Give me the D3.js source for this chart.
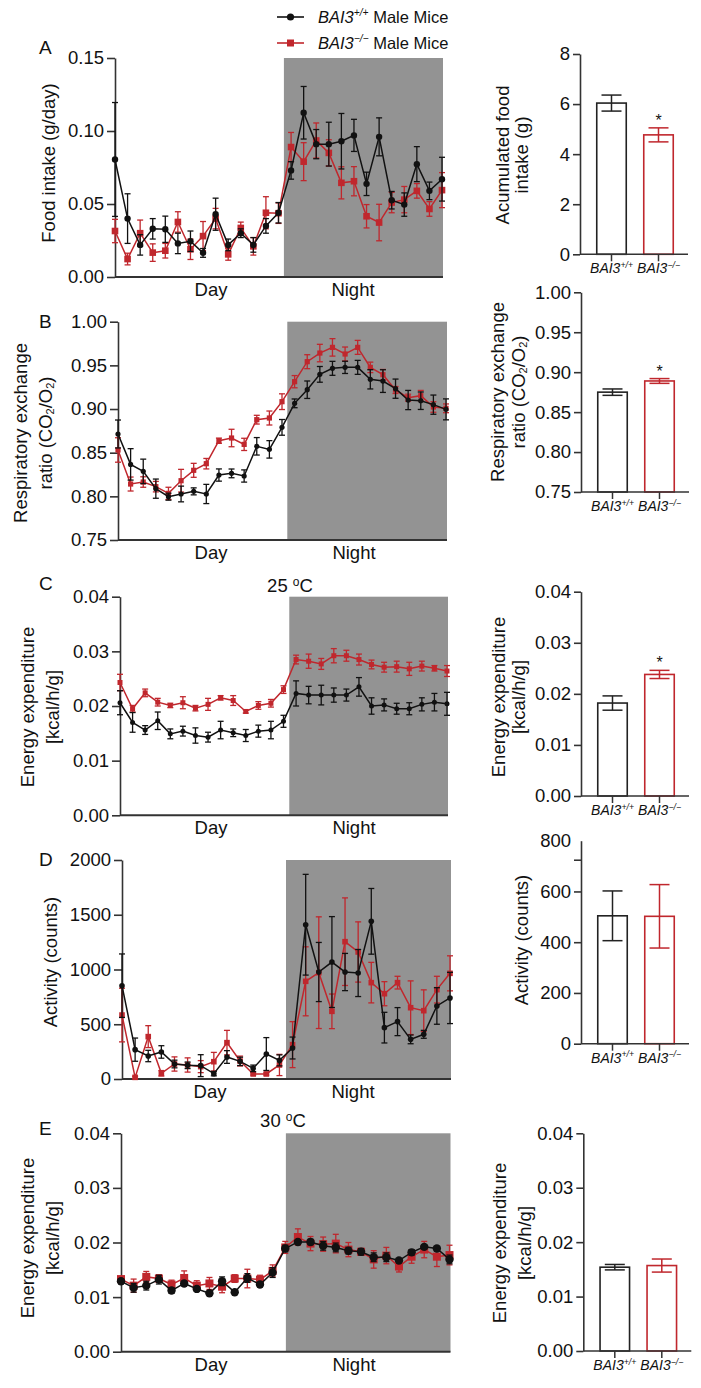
<!DOCTYPE html>
<html><head><meta charset="utf-8">
<script src="https://cdn.jsdelivr.net/npm/d3@7"></script>
<style>body{margin:0;background:#fff}</style>
</head><body><svg id="c" width="701" height="1388"></svg>
<script>
// ---------------- DATA ----------------
const groups = ["BAI3+/+", "BAI3-/-"];

const foodWT    = [0.0805,0.040,0.022,0.033,0.0327,0.023,0.0245,0.0165,0.043,0.022,0.030,0.022,0.035,0.044,0.073,0.1125,0.091,0.091,0.093,0.097,0.0638,0.096,0.0526,0.0496,0.0773,0.059,0.067];
const foodWTerr = [0.039,0.017,0.007,0.007,0.009,0.007,0.007,0.003,0.011,0.004,0.003,0.005,0.005,0.007,0.006,0.018,0.010,0.015,0.019,0.011,0.008,0.013,0.006,0.008,0.012,0.006,0.015];
const foodKO    = [0.0315,0.0123,0.030,0.0167,0.018,0.0377,0.019,0.028,0.040,0.0155,0.0336,0.021,0.044,0.0437,0.089,0.079,0.0935,0.085,0.0645,0.0656,0.0416,0.0373,0.051,0.053,0.059,0.0466,0.0595];
const foodKOerr = [0.008,0.004,0.009,0.006,0.005,0.007,0.007,0.010,0.007,0.004,0.004,0.006,0.011,0.007,0.010,0.013,0.012,0.009,0.011,0.010,0.008,0.0125,0.007,0.009,0.005,0.005,0.012];

const rerWT    = [0.8714,0.8366,0.8286,0.8088,0.7996,0.8027,0.8057,0.8027,0.8244,0.8263,0.8233,0.8573,0.8538,0.879,0.9065,0.9221,0.9397,0.9466,0.9477,0.9477,0.934,0.932,0.9233,0.9103,0.9095,0.905,0.8996];
const rerWTerr = [0.016,0.018,0.014,0.011,0.004,0.009,0.004,0.011,0.007,0.005,0.007,0.010,0.010,0.009,0.005,0.010,0.009,0.008,0.007,0.008,0.011,0.013,0.011,0.011,0.010,0.011,0.012];
const rerKO    = [0.8531,0.8141,0.8164,0.8111,0.8034,0.8179,0.8298,0.8374,0.8637,0.8668,0.8595,0.8878,0.8897,0.9084,0.9313,0.9542,0.9641,0.9706,0.963,0.9706,0.9477,0.9393,0.9218,0.913,0.9153,0.9023,0.9008];
const rerKOerr = [0.014,0.008,0.006,0.006,0.007,0.013,0.008,0.006,0.003,0.010,0.007,0.005,0.008,0.009,0.007,0.008,0.010,0.010,0.008,0.008,0.006,0.006,0.004,0.004,0.006,0.006,0.005];

const ee25WT    = [0.0206,0.0170,0.0156,0.0173,0.0149,0.0154,0.0146,0.0143,0.0156,0.0151,0.0146,0.0154,0.0156,0.0172,0.0223,0.0220,0.0220,0.0220,0.0220,0.0235,0.0200,0.0202,0.0195,0.0195,0.0203,0.0207,0.0204];
const ee25WTerr = [0.0022,0.0018,0.0008,0.0016,0.0009,0.0009,0.0014,0.0009,0.0016,0.0007,0.0011,0.0011,0.0016,0.0011,0.0023,0.0016,0.0018,0.0013,0.0011,0.0017,0.0015,0.0011,0.0010,0.0011,0.0012,0.0016,0.0021];
const ee25KO    = [0.0243,0.0195,0.0224,0.0207,0.0201,0.0206,0.0196,0.0203,0.0215,0.0210,0.0190,0.0201,0.0205,0.0230,0.0285,0.0282,0.0277,0.0292,0.0292,0.0285,0.0276,0.0271,0.0272,0.0268,0.0273,0.0269,0.0264];
const ee25KOerr = [0.0015,0.0006,0.0007,0.0007,0.0004,0.0011,0.0005,0.0011,0.0004,0.0009,0.0003,0.0007,0.0007,0.0007,0.0008,0.0013,0.0010,0.0013,0.0010,0.0010,0.0008,0.0009,0.0010,0.0012,0.0009,0.0005,0.0010];

const actWT    = [852,268,210,247,137,125,122,49,201,161,97,228,170,283,1409,977,1068,977,968,1440,469,524,362,408,667,740];
const actWTerr = [290,106,52,57,35,30,100,20,58,38,30,150,50,100,460,270,415,170,215,300,140,128,40,36,167,234];
const actKO    = [584,15,387,52,137,128,113,158,332,164,46,46,128,314,892,971,618,1254,1160,880,779,880,651,624,816,965];
const actKOerr = [245,10,100,25,65,65,55,85,112,45,10,10,97,210,315,510,158,400,275,185,110,58,245,190,122,160];

const ee30WT    = [0.0129,0.0117,0.0121,0.0132,0.0112,0.0125,0.0115,0.0107,0.0129,0.0109,0.0135,0.0123,0.0145,0.0189,0.0201,0.0201,0.0194,0.0191,0.0185,0.0183,0.0173,0.0173,0.0167,0.0182,0.0192,0.0189,0.0169];
const ee30WTerr = [0.0004,0.0008,0.0008,0.0008,0.0005,0.0004,0.0004,0.0003,0.0008,0.0003,0.0008,0.0004,0.0009,0.0006,0.0004,0.0005,0.0008,0.0008,0.0006,0.0006,0.0008,0.0008,0.0003,0.0005,0.0004,0.0004,0.0008];
const ee30KO    = [0.0133,0.0121,0.0137,0.0134,0.0123,0.0135,0.0121,0.0125,0.0119,0.0134,0.0134,0.0132,0.0148,0.0191,0.0210,0.0198,0.0197,0.0198,0.0187,0.0183,0.0169,0.0176,0.0156,0.0174,0.0187,0.0174,0.0177];
const ee30KOerr = [0.0004,0.0012,0.0010,0.0007,0.0008,0.0013,0.0009,0.0011,0.0011,0.0007,0.0017,0.0008,0.0011,0.0011,0.0015,0.0013,0.0013,0.0017,0.0013,0.0006,0.0016,0.0015,0.0010,0.0012,0.0015,0.0018,0.0018];

const barFood = [6.04, 4.77],   barFoodErr = [0.32, 0.28];
const barRER  = [0.875, 0.889], barRERErr  = [0.004, 0.003];
const barEE25 = [0.0182, 0.0238], barEE25Err = [0.0014, 0.0008];
const barAct  = [504, 502],     barActErr  = [98, 125];
const barEE30 = [0.0154, 0.0157], barEE30Err = [0.0005, 0.0012];

const ticksFood = [0, 0.05, 0.10, 0.15];
const ticksRER  = [0.75, 0.80, 0.85, 0.90, 0.95, 1.00];
const ticksEE   = [0, 0.01, 0.02, 0.03, 0.04];
const ticksAct  = [0, 500, 1000, 1500, 2000];
const ticksBarFood = [0, 2, 4, 6, 8];
const ticksBarAct  = [0, 200, 400, 600, 800];

// ---------------- DRAWING ----------------
const FONT = '"Liberation Sans", Arial, Helvetica, sans-serif';
const RED = "#c0272d", BLK = "#111", AX = "#333", GRAY = "#939393";
const svg = d3.select("#c");

function styleAxis(a, fs) {
  a.attr("font-family", FONT).attr("font-size", fs);
  a.select(".domain").attr("stroke", AX).attr("stroke-width", 1.6);
  a.selectAll(".tick line").attr("stroke", AX).attr("stroke-width", 1.6);
  a.selectAll(".tick text").attr("fill", "#111");
}

function yLabel(lines, cy) {
  lines.forEach(l => {
    const t = svg.append("text")
      .attr("transform", `translate(${l.x},${cy}) rotate(-90)`)
      .attr("text-anchor", "middle").attr("dominant-baseline", "central")
      .attr("font-family", FONT).attr("font-size", 18.5).attr("fill", "#111");
    l.parts.forEach(p => {
      const s = t.append("tspan").text(p.t);
      if (p.sub) s.attr("font-size", 11).attr("dy", 5);
      if (p.back) s.attr("dy", -5);
    });
  });
}

function letter(ch, x, y) {
  svg.append("text").attr("x", x).attr("y", y).text(ch)
    .attr("font-family", FONT).attr("font-size", 19).attr("fill", "#111");
}

function series(g, x, y, vals, errs, color, shape, size, cap) {
  g.append("path").datum(vals)
    .attr("d", d3.line().x((d, i) => x(i)).y(d => y(d)))
    .attr("fill", "none").attr("stroke", color).attr("stroke-width", 1.5);
  const eb = g.append("g").attr("stroke", color).attr("stroke-width", 1.3);
  vals.forEach((v, i) => {
    const xi = x(i), yt = y(v + errs[i]), yb = y(v - errs[i]);
    eb.append("line").attr("x1", xi).attr("x2", xi).attr("y1", yt).attr("y2", yb);
    eb.append("line").attr("x1", xi - cap).attr("x2", xi + cap).attr("y1", yt).attr("y2", yt);
    eb.append("line").attr("x1", xi - cap).attr("x2", xi + cap).attr("y1", yb).attr("y2", yb);
  });
  vals.forEach((v, i) => {
    if (shape === "circle")
      g.append("circle").attr("cx", x(i)).attr("cy", y(v)).attr("r", size).attr("fill", color);
    else
      g.append("rect").attr("x", x(i) - size).attr("y", y(v) - size)
        .attr("width", size * 2).attr("height", size * 2).attr("fill", color);
  });
}

function linePanel(c) {
  const g = svg.append("g");
  const n = c.wt.length;
  const x = d3.scaleLinear().domain([0, n - 1]).range([c.x0, c.x1]);
  const y = d3.scaleLinear().domain([c.ticks[0], c.ticks[c.ticks.length - 1]]).range([c.yBot, c.yTop]);
  const xEnd = x(n - 1) + 1;
  g.append("rect").attr("x", x(c.night)).attr("y", c.yTop)
    .attr("width", xEnd - x(c.night)).attr("height", c.yBot - c.yTop).attr("fill", GRAY);
  const a = g.append("g").attr("transform", `translate(${c.x0},0)`)
    .call(d3.axisLeft(y).tickValues(c.ticks).tickFormat(d3.format(c.fmt))
      .tickSize(8).tickPadding(3).tickSizeOuter(0));
  styleAxis(a, 18.5);
  g.append("line").attr("x1", c.x0).attr("x2", xEnd).attr("y1", c.yBot).attr("y2", c.yBot)
    .attr("stroke", AX).attr("stroke-width", 2);
  series(g, x, y, c.ko, c.koErr, RED, "square", c.sq, 3);
  series(g, x, y, c.wt, c.wtErr, BLK, "circle", c.r, 3);
  [["Day", c.dayX], ["Night", c.nightX]].forEach(([t, xx]) =>
    g.append("text").attr("x", xx).attr("y", c.yBot + 19).attr("text-anchor", "middle")
      .attr("font-family", FONT).attr("font-size", 18.5).attr("fill", "#111").text(t));
  letter(c.letter, 39, c.letterY);
  yLabel(c.ylab, c.ylabY);
  if (c.title) {
    const t = g.append("text").attr("x", c.title.x).attr("y", c.title.y).attr("text-anchor", "middle")
      .attr("font-family", FONT).attr("font-size", 18.5).attr("fill", "#111");
    t.append("tspan").text(c.title.t + " ");
    t.append("tspan").text("o").attr("font-size", 12).attr("dy", -6);
    t.append("tspan").text("C").attr("dy", 6);
  }
}

function geno(sel, g, fs) {
  const base = g === groups[0] ? "+/+" : "\u2212/\u2212";
  sel.append("tspan").text("BAI3").attr("font-style", "italic");
  sel.append("tspan").text(base).attr("font-size", fs * 0.62).attr("dy", -fs * 0.38).attr("font-style", "italic");
}

function barPanel(c) {
  const g = svg.append("g");
  const x = d3.scalePoint().domain(groups).range([c.ax + 31.5, c.ax + 78.5]);
  const y = d3.scaleLinear().domain([c.ticks[0], c.ticks[c.ticks.length - 1]]).range([c.yBot, c.yTop]);
  const bw = 29.5;
  const cols = [ "#222", RED ];
  groups.forEach((k, i) => {
    g.append("rect").attr("x", x(k) - bw / 2).attr("y", y(c.vals[i]))
      .attr("width", bw).attr("height", c.yBot - y(c.vals[i]))
      .attr("fill", "#fff").attr("stroke", cols[i]).attr("stroke-width", 1.6);
    const yt = y(c.vals[i] + c.errs[i]), yb = y(c.vals[i] - c.errs[i]), cap = 10;
    const e = g.append("g").attr("stroke", cols[i]).attr("stroke-width", 1.5);
    e.append("line").attr("x1", x(k)).attr("x2", x(k)).attr("y1", yt).attr("y2", yb);
    e.append("line").attr("x1", x(k) - cap).attr("x2", x(k) + cap).attr("y1", yt).attr("y2", yt);
    e.append("line").attr("x1", x(k) - cap).attr("x2", x(k) + cap).attr("y1", yb).attr("y2", yb);
  });
  const tv = c.extraTick ? c.ticks.concat([c.extraTick]) : c.ticks;
  const fmt = d3.format(c.fmt);
  const a = g.append("g").attr("transform", `translate(${c.ax},0)`)
    .call(d3.axisLeft(y).tickValues(tv).tickFormat(d => d === c.extraTick ? "" : fmt(d))
      .tickSize(7).tickPadding(3).tickSizeOuter(0));
  styleAxis(a, 18.5);
  if (c.extraTick) a.selectAll(".tick").filter(d => d === c.ticks[c.ticks.length - 1]).select("line").remove();
  g.append("line").attr("x1", c.ax).attr("x2", c.ax + 108).attr("y1", c.yBot).attr("y2", c.yBot)
    .attr("stroke", AX).attr("stroke-width", 1.6);
  groups.forEach(k => {
    g.append("line").attr("x1", x(k)).attr("x2", x(k)).attr("y1", c.yBot).attr("y2", c.yBot + 7)
      .attr("stroke", AX).attr("stroke-width", 1.5);
    const t = g.append("text").attr("x", x(k)).attr("y", c.yBot + 19).attr("text-anchor", "middle")
      .attr("font-family", FONT).attr("font-size", 14).attr("fill", "#111");
    geno(t, k, 14);
  });
  if (c.star) g.append("text").attr("x", x(groups[1])).attr("y", y(c.vals[1] + c.errs[1]) - 2)
    .attr("text-anchor", "middle").attr("font-family", FONT).attr("font-size", 16).attr("fill", "#111").text("*");
  yLabel(c.ylab, c.ylabY);
}

// ---- Legend ----
(function () {
  const items = [{ y: 17, col: BLK, shape: "circle", g: groups[0] }, { y: 43, col: RED, shape: "square", g: groups[1] }];
  items.forEach(it => {
    svg.append("line").attr("x1", 277).attr("x2", 304).attr("y1", it.y).attr("y2", it.y)
      .attr("stroke", it.col).attr("stroke-width", 1.6);
    if (it.shape === "circle") svg.append("circle").attr("cx", 290.5).attr("cy", it.y).attr("r", 3.6).attr("fill", it.col);
    else svg.append("rect").attr("x", 287).attr("y", it.y - 3.5).attr("width", 7).attr("height", 7).attr("fill", it.col);
    const t = svg.append("text").attr("x", 318).attr("y", it.y + 5.5)
      .attr("font-family", FONT).attr("font-size", 16.5).attr("fill", "#111");
    geno(t, it.g, 16.5);
    t.append("tspan").text(" Male Mice").attr("dy", 16.5 * 0.38);
  });
})();

// ---- Line panels ----
linePanel({ letter: "A", letterY: 54, x0: 115, x1: 442, yTop: 58, yBot: 277, night: 13.43,
  ticks: ticksFood, fmt: ".2f", wt: foodWT, wtErr: foodWTerr, ko: foodKO, koErr: foodKOerr,
  r: 3.2, sq: 3.3, dayX: 211, nightX: 353,
  ylab: [{ x: 48, parts: [{ t: "Food intake (g/day)" }] }], ylabY: 163 });

linePanel({ letter: "B", letterY: 328, x0: 118, x1: 446, yTop: 321.7, yBot: 540, night: 13.42,
  ticks: ticksRER, fmt: ".2f", wt: rerWT, wtErr: rerWTerr, ko: rerKO, koErr: rerKOerr,
  r: 2.6, sq: 2.6, dayX: 211, nightX: 354,
  ylab: [{ x: 20, parts: [{ t: "Respiratory exchange" }] },
         { x: 45, parts: [{ t: "ratio (CO" }, { t: "2", sub: 1 }, { t: "/O", back: 1 }, { t: "2", sub: 1 }, { t: ")", back: 1 }] }],
  ylabY: 433 });

linePanel({ letter: "C", letterY: 590, x0: 120, x1: 447, yTop: 596.7, yBot: 815.3, night: 13.46,
  ticks: ticksEE, fmt: ".2f", wt: ee25WT, wtErr: ee25WTerr, ko: ee25KO, koErr: ee25KOerr,
  r: 2.5, sq: 2.5, dayX: 211, nightX: 354, title: { t: "25", x: 290, y: 592 },
  ylab: [{ x: 27, parts: [{ t: "Energy expenditure" }] }, { x: 52, parts: [{ t: "[kcal/h/g]" }] }],
  ylabY: 707 });

linePanel({ letter: "D", letterY: 866, x0: 122, x1: 450, yTop: 860, yBot: 1079, night: 12.5,
  ticks: ticksAct, fmt: "d", wt: actWT, wtErr: actWTerr, ko: actKO, koErr: actKOerr,
  r: 2.8, sq: 2.8, dayX: 210, nightX: 353,
  ylab: [{ x: 50, parts: [{ t: "Activity (counts)" }] }], ylabY: 962 });

linePanel({ letter: "E", letterY: 1135, x0: 121, x1: 449.5, yTop: 1133.3, yBot: 1351.7, night: 13.05,
  ticks: ticksEE, fmt: ".2f", wt: ee30WT, wtErr: ee30WTerr, ko: ee30KO, koErr: ee30KOerr,
  r: 4.2, sq: 4.0, dayX: 211, nightX: 354, title: { t: "30", x: 283, y: 1127 },
  ylab: [{ x: 27, parts: [{ t: "Energy expenditure" }] }, { x: 52, parts: [{ t: "[kcal/h/g]" }] }],
  ylabY: 1238 });

// ---- Bar panels ----
barPanel({ ax: 580, yTop: 54, yBot: 254.3, ticks: ticksBarFood, fmt: "d", vals: barFood, errs: barFoodErr, star: true,
  ylab: [{ x: 502, parts: [{ t: "Acumulated food" }] }, { x: 521, parts: [{ t: "intake (g)" }] }], ylabY: 155 });

barPanel({ ax: 581, yTop: 292.3, yBot: 492, ticks: ticksRER, fmt: ".2f", vals: barRER, errs: barRERErr, star: true,
  ylab: [{ x: 497, parts: [{ t: "Respiratory exchange" }] },
         { x: 518, parts: [{ t: "ratio (CO" }, { t: "2", sub: 1 }, { t: "/O", back: 1 }, { t: "2", sub: 1 }, { t: ")", back: 1 }] }],
  ylabY: 392 });

barPanel({ ax: 581, yTop: 591.7, yBot: 796, ticks: ticksEE, fmt: ".2f", vals: barEE25, errs: barEE25Err, star: true,
  ylab: [{ x: 498, parts: [{ t: "Energy expenditure" }] }, { x: 518, parts: [{ t: "[kcal/h/g]" }] }], ylabY: 697 });

barPanel({ ax: 581, yTop: 840.7, yBot: 1043.7, ticks: ticksBarAct, fmt: "d", vals: barAct, errs: barActErr, extraTick: 725,
  ylab: [{ x: 521, parts: [{ t: "Activity (counts)" }] }], ylabY: 940 });

barPanel({ ax: 583.3, yTop: 1133.3, yBot: 1351, ticks: ticksEE, fmt: ".2f", vals: barEE30, errs: barEE30Err,
  ylab: [{ x: 499, parts: [{ t: "Energy expenditure" }] }, { x: 524, parts: [{ t: "[kcal/h/g]" }] }], ylabY: 1243 });
</script></body></html>
